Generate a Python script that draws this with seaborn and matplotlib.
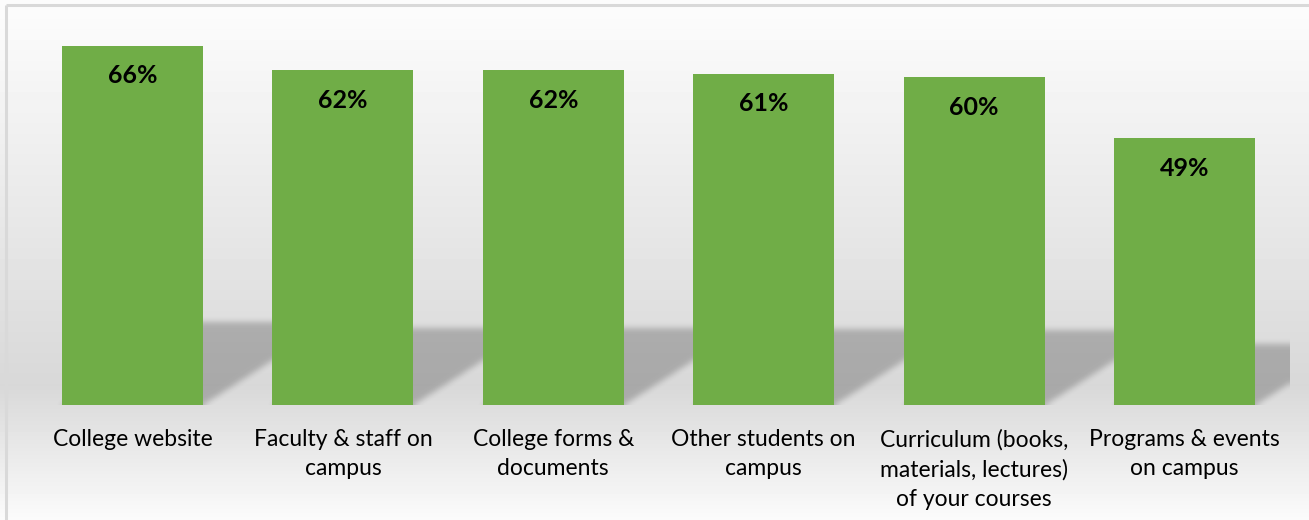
import numpy as np
import matplotlib
matplotlib.use("Agg")
import matplotlib.pyplot as plt
from matplotlib.path import Path
import seaborn as sns
import pandas as pd

# DATA
categories = ["College website", "Faculty & staff on\ncampus", "College forms &\ndocuments",
              "Other students on\ncampus", "Curriculum (books,\nmaterials, lectures)\nof your courses",
              "Programs & events\non campus"]
values = [0.66, 0.615, 0.615, 0.608, 0.602, 0.49]
labels = ["66%", "62%", "62%", "61%", "60%", "49%"]

df = pd.DataFrame({"category": categories, "value": values})

sns.set_theme(style="white")
plt.rcParams["font.family"] = ["Lato", "DejaVu Sans"]

W, H = 1309, 520
fig = plt.figure(figsize=(W / 100, H / 100), dpi=100)

# background gradient (white -> gray -> white) and chart frame
bg = fig.add_axes([0, 0, 1, 1])
rows = np.arange(H)
stops_y = [0, 8, 385, 520]
stops_v = [252, 252, 216, 251]
col = np.interp(rows, stops_y, stops_v) / 255.0
grad = np.repeat(col[:, None], 10, axis=1)
bg.imshow(grad, cmap="gray", vmin=0, vmax=1, aspect="auto", extent=[0, W, H, 0])
bg.plot([6, W + 5], [5, 5], color="#d9d9d9", lw=2.2, solid_capstyle="butt")
bg.plot([6, 6], [5, H + 5], color="#d9d9d9", lw=2.2, solid_capstyle="butt")
bg.set_xlim(0, W)
bg.set_ylim(H, 0)
bg.axis("off")

# main axes
left, right, floor, top = 27.3, 1289.7, 405, 24
ax = fig.add_axes([left / W, (H - floor) / H, (right - left) / W, (floor - top) / H])
ax.patch.set_alpha(0)
sns.barplot(data=df, x="category", y="value", color="#70ad47", saturation=1,
            width=0.67, linewidth=0, edgecolor="none", ax=ax, zorder=3)
ymax = 0.70
ax.set_ylim(0, ymax)
ax.set_xlim(-0.5, len(categories) - 0.5)
for s in ax.spines.values():
    s.set_visible(False)
ax.set_yticks([])
ax.set_xlabel("")
ax.set_ylabel("")
ax.tick_params(axis="x", length=0, pad=17.5)
ax.set_xticks(range(len(categories)))
ax.set_xticklabels(categories, fontsize=16.5, color="#000000", linespacing=1.48)

# soft perspective shadows behind the bars
fig.canvas.draw()
bb = ax.get_window_extent()
gw, gh = int(round(bb.width)), int(round(bb.height))
gx, gy = np.meshgrid(np.arange(gw) + 0.5, np.arange(gh) + 0.5)
pts = np.column_stack([gx.ravel() + bb.x0, gy.ravel() + bb.y0])
mask = np.zeros(gw * gh)
shadow_frac, skew = 0.23, 1.56
for p in ax.patches:
    x0, x1 = p.get_x(), p.get_x() + p.get_width()
    h = p.get_height()
    (ax0, ay0), (ax1, ay1) = ax.transData.transform([(x0, 0), (x1, h)])
    sh = (ay1 - ay0) * shadow_frac
    dx = sh * skew
    poly = Path([(ax0, ay0), (ax1, ay0), (ax1 + dx, ay0 + sh), (ax0 + dx, ay0 + sh), (ax0, ay0)])
    mask = np.maximum(mask, poly.contains_points(pts).astype(float))
mask = mask.reshape(gh, gw)


def box_blur(a, r):
    k = np.ones(2 * r + 1) / (2 * r + 1)
    a = np.apply_along_axis(lambda m: np.convolve(np.pad(m, r, mode="edge"), k, mode="valid"), 0, a)
    a = np.apply_along_axis(lambda m: np.convolve(np.pad(m, r, mode="edge"), k, mode="valid"), 1, a)
    return a


mask = box_blur(box_blur(mask, 3), 3)
rgba = np.zeros((gh, gw, 4))
rgba[..., 3] = mask * 0.22
ax.imshow(rgba, origin="lower", extent=[-0.5, len(categories) - 0.5, 0, ymax],
          aspect="auto", zorder=1, interpolation="bilinear")
ax.set_xlim(-0.5, len(categories) - 0.5)
ax.set_ylim(0, ymax)

# value labels inside the top of each bar
for i, (v, lab) in enumerate(zip(values, labels)):
    ax.annotate(lab, (i, v), xytext=(0, -21.5), textcoords="offset points",
                ha="center", va="center", fontsize=18, fontweight="bold",
                color="#000000", zorder=5)

fig.savefig("out.png", dpi=100)
